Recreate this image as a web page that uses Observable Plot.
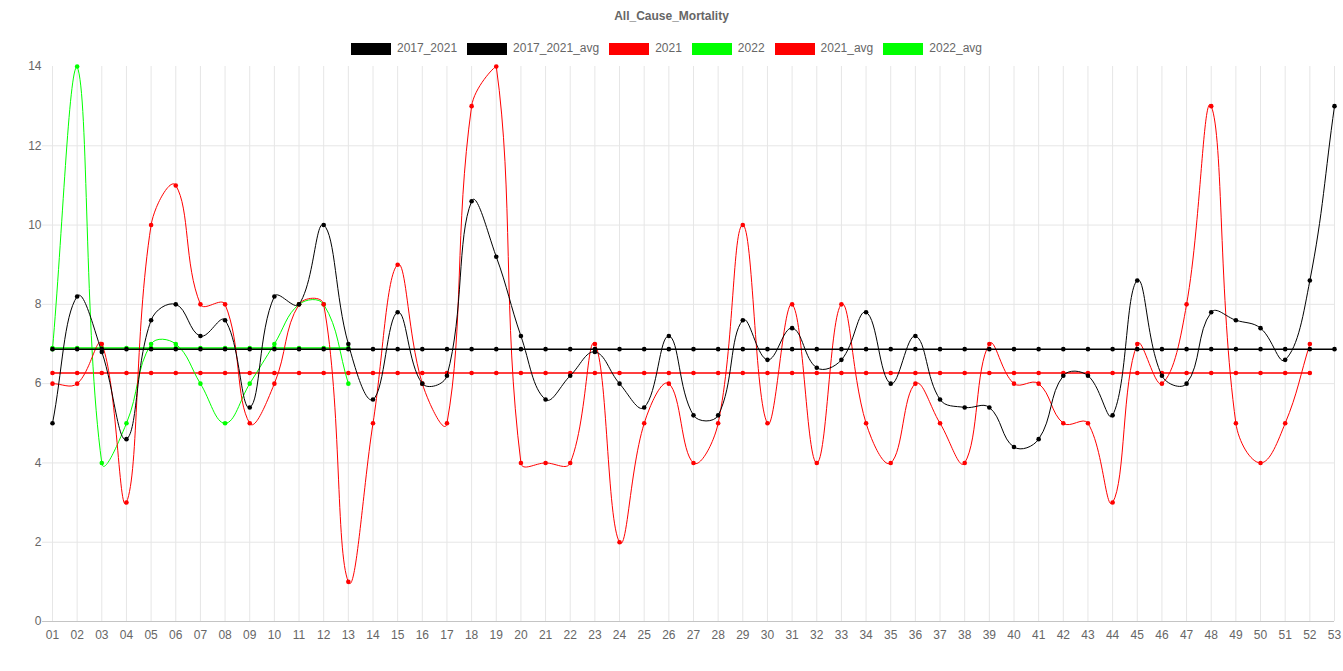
<!DOCTYPE html>
<html>
<head>
<meta charset="utf-8">
<script src="https://cdn.jsdelivr.net/npm/d3@7"></script>
<script src="https://cdn.jsdelivr.net/npm/@observablehq/plot@0.6"></script>
<style>
  body { margin: 0; background: #fff; font-family: "Helvetica Neue", Helvetica, Arial, "Liberation Sans", sans-serif; color: #666; }
  #head { position: relative; width: 1343px; height: 58px; }
  #title { position: absolute; top: 9px; left: 0; width: 1343px; text-align: center; font-weight: bold; font-size: 12px; line-height: 14px; }
  #legend { position: absolute; top: 42px; left: 0; width: 1333px; display: flex; justify-content: center; gap: 10px; font-size: 12px; line-height: 13px; }
  .item { display: flex; align-items: center; }
  .sw { width: 40px; height: 12px; margin-right: 6px; }
</style>
</head>
<body>
<div id="head">
  <div id="title"></div>
  <div id="legend"></div>
</div>
<div id="chart"></div>
<script>
const title = "All_Cause_Mortality";

const weeks = ["01","02","03","04","05","06","07","08","09","10","11","12","13","14","15","16","17","18","19","20",
  "21","22","23","24","25","26","27","28","29","30","31","32","33","34","35","36","37","38","39","40",
  "41","42","43","44","45","46","47","48","49","50","51","52","53"];

const yTicks = [0, 2, 4, 6, 8, 10, 12, 14];

const values2017_2021 = [5.0, 8.2, 6.8, 4.6, 7.6, 8.0, 7.2, 7.6, 5.4, 8.2, 8.0, 10.0, 7.0, 5.6, 7.8, 6.0, 6.2, 10.6, 9.2, 7.2,
  5.6, 6.2, 6.8, 6.0, 5.4, 7.2, 5.2, 5.2, 7.6, 6.6, 7.4, 6.4, 6.6, 7.8, 6.0, 7.2, 5.6, 5.4, 5.4, 4.4,
  4.6, 6.2, 6.2, 5.2, 8.6, 6.2, 6.0, 7.8, 7.6, 7.4, 6.6, 8.6, 13.0];

const values2021 = [6, 6, 7, 3, 10, 11, 8, 8, 5, 6, 8, 8, 1, 5, 9, 6, 5, 13, 14, 4,
  4, 4, 7, 2, 5, 6, 4, 5, 10, 5, 8, 4, 8, 5, 4, 6, 5, 4, 7, 6,
  6, 5, 5, 3, 7, 6, 8, 13, 5, 4, 5, 7];

const values2022 = [6.87, 14, 4, 5, 7, 7, 6, 5, 6, 7, 8, 8, 6];

const avg2017_2021 = 6.87;
const avg2021 = 6.27;
const avg2022 = 6.9;

const seriesNames = ["2017_2021", "2017_2021_avg", "2021", "2022", "2021_avg", "2022_avg"];
const seriesColors = ["#000000", "#000000", "#ff0000", "#00ff00", "#ff0000", "#00ff00"];

// title + legend (HTML, above the SVG)
document.getElementById("title").textContent = title;
const legend = document.getElementById("legend");
seriesNames.forEach((name, i) => {
  const item = document.createElement("div");
  item.className = "item";
  const sw = document.createElement("div");
  sw.className = "sw";
  sw.style.background = seriesColors[i];
  const label = document.createElement("span");
  label.textContent = name;
  item.appendChild(sw);
  item.appendChild(label);
  legend.appendChild(item);
});

// layout
const W = 1343, H = 613;
const mL = 52, mR = 9, mT = 8, mB = 50;
const area = { left: mL, right: W - mR, top: mT, bottom: H - mB };

// Chart.js (v2) style bezier spline with tension 0.4 and control points capped to the chart area
function chartJsCurve(bounds, t) {
  return function (context) {
    let pts = [];
    const cap = (v, lo, hi) => Math.max(Math.min(v, hi), lo);
    return {
      areaStart() {}, areaEnd() {},
      lineStart() { pts = []; },
      point(x, y) { pts.push({ x: +x, y: +y }); },
      lineEnd() {
        const n = pts.length;
        if (!n) return;
        const cp = pts.map((p, i) => {
          const prev = pts[i - 1] || p, next = pts[i + 1] || p;
          const d01 = Math.hypot(p.x - prev.x, p.y - prev.y);
          const d12 = Math.hypot(next.x - p.x, next.y - p.y);
          let s01 = d01 / (d01 + d12), s12 = d12 / (d01 + d12);
          if (isNaN(s01)) s01 = 0;
          if (isNaN(s12)) s12 = 0;
          const fa = t * s01, fb = t * s12;
          return {
            px: cap(p.x - fa * (next.x - prev.x), bounds.left, bounds.right),
            py: cap(p.y - fa * (next.y - prev.y), bounds.top, bounds.bottom),
            nx: cap(p.x + fb * (next.x - prev.x), bounds.left, bounds.right),
            ny: cap(p.y + fb * (next.y - prev.y), bounds.top, bounds.bottom)
          };
        });
        context.moveTo(pts[0].x, pts[0].y);
        for (let i = 1; i < n; i++) {
          context.bezierCurveTo(cp[i - 1].nx, cp[i - 1].ny, cp[i].px, cp[i].py, pts[i].x, pts[i].y);
        }
      }
    };
  };
}
const curve = chartJsCurve(area, 0.4);

const toRows = (arr) => arr.map((v, i) => ({ week: weeks[i], value: v }));
const constRows = (v, n) => weeks.slice(0, n).map(w => ({ week: w, value: v }));

const rows2017_2021 = toRows(values2017_2021);
const rows2021 = toRows(values2021);
const rows2022 = toRows(values2022);
const rowsAvg2017_2021 = constRows(avg2017_2021, values2017_2021.length);
const rowsAvg2021 = constRows(avg2021, values2021.length);
const rowsAvg2022 = constRows(avg2022, values2022.length);

function series(rows, color, width) {
  return [
    Plot.line(rows, { x: "week", y: "value", stroke: color, strokeWidth: width, curve }),
    Plot.dot(rows, { x: "week", y: "value", fill: color, r: 2.3 })
  ];
}

const chart = Plot.plot({
  width: W, height: H,
  marginLeft: mL, marginRight: mR, marginTop: mT, marginBottom: mB,
  style: { fontFamily: '"Helvetica Neue", Helvetica, Arial, "Liberation Sans", sans-serif', fontSize: "12px", color: "#666", background: "#fff", overflow: "visible" },
  x: { type: "point", domain: weeks, padding: 0, axis: null },
  y: { domain: [0, 14], axis: null },
  marks: [
    Plot.ruleX(weeks, { x: d => d, stroke: "#e6e6e6" }),
    Plot.ruleY(yTicks.filter(d => d > 0 && d < 14), { y: d => d, stroke: "#e6e6e6", insetLeft: -10 }),
    Plot.ruleY([0], { y: d => d, stroke: "#c4c4c4", insetLeft: -10 }),
    Plot.axisX(weeks, { tickSize: 0, tickPadding: 9, label: null, fill: "#666" }),
    Plot.axisY(yTicks, { tickSize: 0, tickPadding: 11, label: null, fill: "#666" }),
    ...series(rowsAvg2022, "#00ff00", 1.5),
    ...series(rowsAvg2021, "#ff0000", 1.5),
    ...series(rows2022, "#00ff00", 1),
    ...series(rows2021, "#ff0000", 1),
    ...series(rowsAvg2017_2021, "#000000", 1.5),
    ...series(rows2017_2021, "#000000", 1)
  ]
});
document.getElementById("chart").appendChild(chart);
</script>
</body>
</html>
